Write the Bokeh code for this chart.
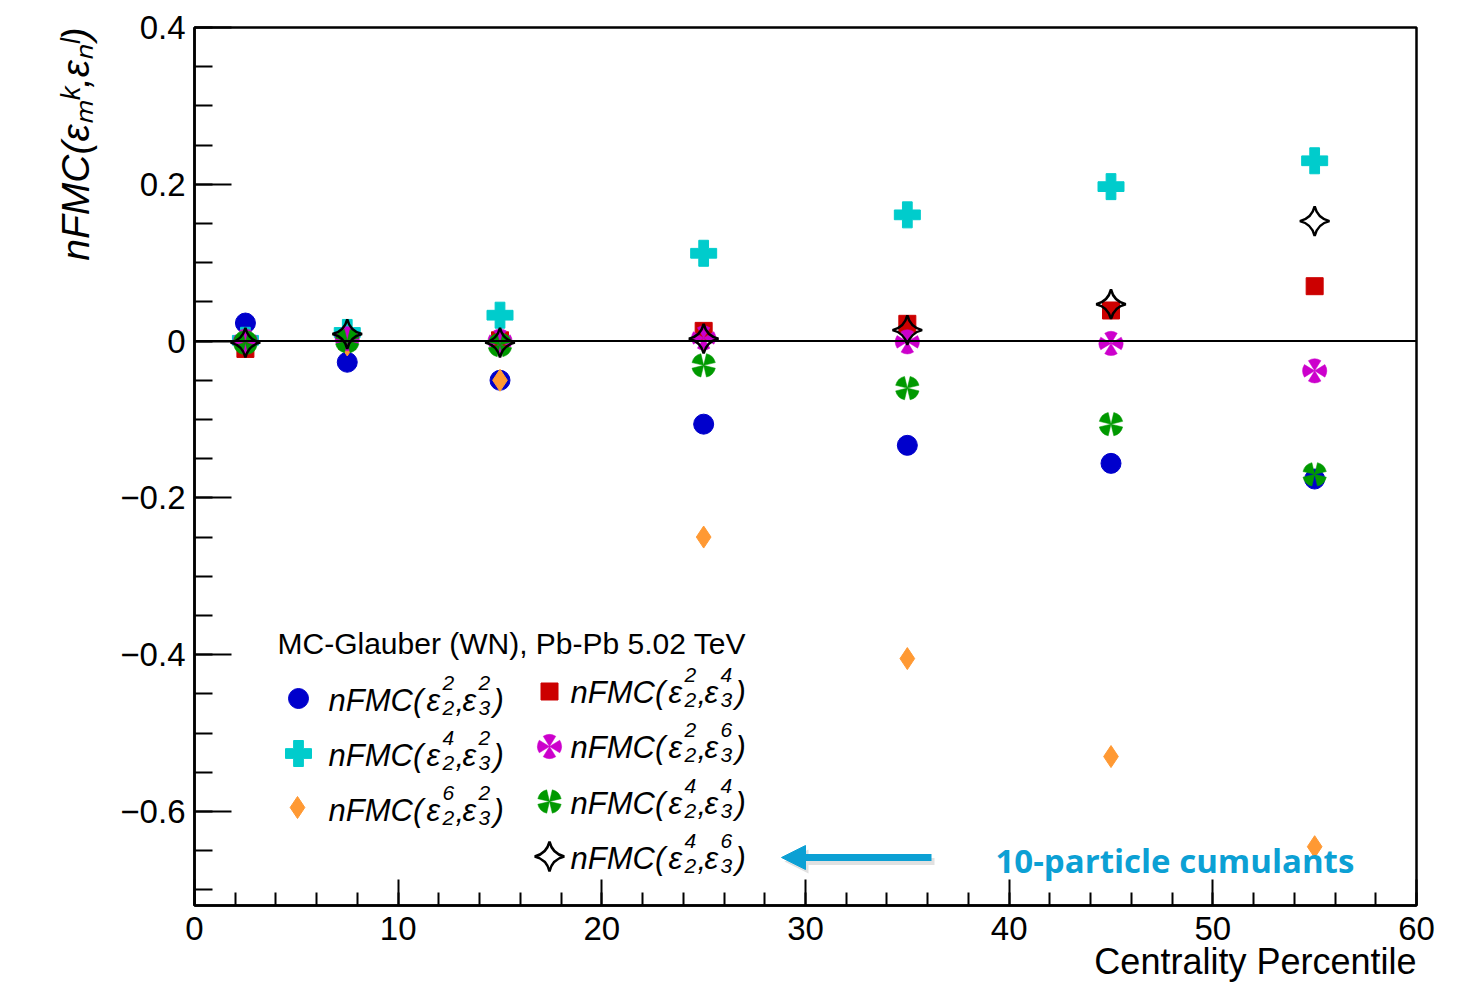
import numpy as np
from bokeh.plotting import figure
from bokeh.models import (Range1d, FixedTicker, CustomJSTickFormatter, Span, Label,
                          Arrow, NormalHead, Title)
from bokeh.embed import file_html
from bokeh.resources import INLINE

# ---------------- data ----------------
centrality = [2.5, 7.5, 15, 25, 35, 45, 55]
nfmc_22_32 = [0.023, -0.027, -0.050, -0.106, -0.133, -0.156, -0.176]
nfmc_24_32 = [0.001, 0.011, 0.033, 0.112, 0.161, 0.197, 0.230]
nfmc_26_32 = [-0.002, -0.005, -0.050, -0.250, -0.405, -0.530, -0.645]
nfmc_22_34 = [-0.010, 0.000, 0.001, 0.013, 0.022, 0.039, 0.070]
nfmc_22_36 = [0.000, 0.003, 0.000, 0.004, -0.001, -0.003, -0.038]
nfmc_24_34 = [-0.002, 0.000, -0.005, -0.031, -0.060, -0.106, -0.170]
nfmc_24_36 = [-0.002, 0.009, -0.002, 0.003, 0.014, 0.047, 0.153]

x_ticks = [0, 10, 20, 30, 40, 50, 60]
y_ticks = [-0.6, -0.4, -0.2, 0.0, 0.2, 0.4]

BLUE = "#0000cc"
CYAN = "#00cccc"
ORANGE = "#ff9933"
RED = "#cc0000"
MAGENTA = "#cc00cc"
GREEN = "#009900"
ARROW = "#0ca0d4"

# ---------------- layout helpers ----------------
FL, FR, FT, FB = 194, 1416, 27, 905
X0, X1, Y0, Y1 = 0.0, 60.0, -0.72, 0.4


def dx(px):
    return X0 + (px - FL) / (FR - FL) * (X1 - X0)


def dy(py):
    return Y1 - (py - FT) / (FB - FT) * (Y1 - Y0)


p = figure(frame_width=FR - FL, frame_height=FB - FT,
           min_border_left=FL, min_border_top=FT, min_border_right=60, min_border_bottom=80,
           x_range=Range1d(X0, X1), y_range=Range1d(Y0, Y1),
           output_backend="svg", toolbar_location=None, background_fill_color="white",
           border_fill_color="white")
p.xgrid.visible = False
p.ygrid.visible = False
p.outline_line_color = "black"
p.outline_line_width = 2.5

TICK_FONT = "Liberation Sans"
for ax in (p.xaxis[0], p.yaxis[0]):
    ax.axis_line_width = 2.5
    ax.axis_line_color = "black"
    ax.major_tick_line_width = 2
    ax.minor_tick_line_width = 2
    ax.major_tick_line_color = "black"
    ax.minor_tick_line_color = "black"
    ax.major_tick_out = 0
    ax.minor_tick_out = 0
    ax.major_label_text_font = TICK_FONT
    ax.major_label_text_font_size = "33px"
    ax.major_label_text_color = "black"

p.xaxis.ticker = FixedTicker(ticks=x_ticks, minor_ticks=list(range(0, 61, 2)))
p.xaxis.major_tick_in = 26
p.xaxis.minor_tick_in = 13
p.xaxis.major_label_standoff = 11

p.yaxis.ticker = FixedTicker(ticks=y_ticks,
                             minor_ticks=[round(v, 2) for v in np.arange(-0.70, 0.401, 0.05)])
p.yaxis.major_tick_in = 37
p.yaxis.minor_tick_in = 18
p.yaxis.major_label_standoff = 9
p.yaxis.formatter = CustomJSTickFormatter(
    code="if (Math.abs(tick) < 1e-9) { return '0'; } return tick.toFixed(1).replace('-', '\u2212');")

# axis titles
p.add_layout(Title(text="Centrality Percentile", align="right", text_font="Liberation Sans",
                   text_font_size="36px", text_font_style="normal", text_color="black",
                   standoff=-7), "below")
p.add_layout(Title(text="nFMC(\u03b5\u2098\u1d4f,\u03b5\u2099\u02e1)", align="right",
                   text_font="Liberation Sans", text_font_size="39px",
                   text_font_style="italic", text_color="black", standoff=41), "left")

p.add_layout(Span(location=0, dimension="width", line_color="black", line_width=2))


# ---------------- markers ----------------
def draw_circle(xs, ys):
    p.scatter(xs, ys, marker="circle", size=20, fill_color=BLUE, line_color=BLUE)


def draw_plus(xs, ys):
    p.scatter(xs, ys, marker="plus", size=26, fill_color=CYAN, line_color=CYAN)


def draw_diamond(xs, ys):
    p.scatter(xs, ys, marker="diamond", size=22, fill_color=ORANGE, line_color=ORANGE)


def draw_square(xs, ys):
    p.scatter(xs, ys, marker="square", size=17, fill_color=RED, line_color=RED)


def draw_four_triangles(xs, ys, color, rot):
    # four filled triangles with their apex at the point (ROOT "four triangles" marker)
    for k in range(4):
        c = rot + k * np.pi / 2
        p.wedge(xs, ys, radius=12, radius_units="screen", start_angle=c - 0.55,
                end_angle=c + 0.55, fill_color=color, line_color=color, line_width=0.5)


def draw_plus_tri(xs, ys):
    draw_four_triangles(xs, ys, MAGENTA, 0.0)


def draw_x_tri(xs, ys):
    draw_four_triangles(xs, ys, GREEN, np.pi / 4)


def draw_star(xs, ys):
    p.scatter(xs, ys, marker="square_pin", size=21, angle=np.pi / 4, fill_alpha=0,
              line_color="black", line_width=2.5)


draw_circle(centrality, nfmc_22_32)
draw_plus(centrality, nfmc_24_32)
draw_diamond(centrality, nfmc_26_32)
draw_square(centrality, nfmc_22_34)
draw_plus_tri(centrality, nfmc_22_36)
draw_x_tri(centrality, nfmc_24_34)
draw_star(centrality, nfmc_24_36)

# ---------------- legend ----------------
LEG_FONT = "Liberation Sans"
SHIFT = 10


def lab(px, py, text, size, style="italic", angle=0.0, align="left", font=LEG_FONT,
        color="black"):
    p.add_layout(Label(x=dx(px), y=dy(py - SHIFT), text=text, text_font=font,
                       text_font_size=f"{size}px", text_font_style=style,
                       text_color=color, angle=angle, text_align=align,
                       text_baseline="alphabetic"))


def entry(px, base, sup1, sub1, sup2, sub2):
    lab(px, base, "nFMC(", 31)
    lab(px + 98, base, "\u03b5", 31)
    lab(px + 114, base - 18, sup1, 21)
    lab(px + 114, base + 7, sub1, 21)
    lab(px + 127, base, ",", 31)
    lab(px + 134, base, "\u03b5", 31)
    lab(px + 150, base - 18, sup2, 21)
    lab(px + 150, base + 7, sub2, 21)
    lab(px + 165, base, ")", 31)


lab(277, 653, "MC-Glauber (WN), Pb-Pb 5.02 TeV", 30, style="normal")

draw_circle([dx(298)], [dy(698)])
entry(328, 710, "2", "2", "2", "3")
draw_plus([dx(298)], [dy(753)])
entry(328, 765, "4", "2", "2", "3")
draw_diamond([dx(297)], [dy(807)])
entry(328, 820, "6", "2", "2", "3")

draw_square([dx(549)], [dy(691)])
entry(570, 702, "2", "2", "4", "3")
draw_plus_tri([dx(549)], [dy(746)])
entry(570, 757, "2", "2", "6", "3")
draw_x_tri([dx(549)], [dy(801)])
entry(570, 813, "4", "2", "4", "3")
draw_star([dx(549)], [dy(856)])
entry(570, 868, "4", "2", "6", "3")

# ---------------- annotation arrow ----------------
p.add_layout(Arrow(end=NormalHead(size=24, fill_color="#888888", line_color="#888888",
                                  fill_alpha=0.25, line_alpha=0.0),
                   x_start=dx(934), y_start=dy(861), x_end=dx(784), y_end=dy(861),
                   line_color="#888888", line_alpha=0.25, line_width=7))
p.add_layout(Arrow(end=NormalHead(size=24, fill_color=ARROW, line_color=ARROW),
                   x_start=dx(931), y_start=dy(857), x_end=dx(781), y_end=dy(857),
                   line_color=ARROW, line_width=7))
lab(995, 870, "10-particle cumulants", 33, style="bold", font="Open Sans", color=ARROW)

open("out.html", "w").write(file_html(p, INLINE))
